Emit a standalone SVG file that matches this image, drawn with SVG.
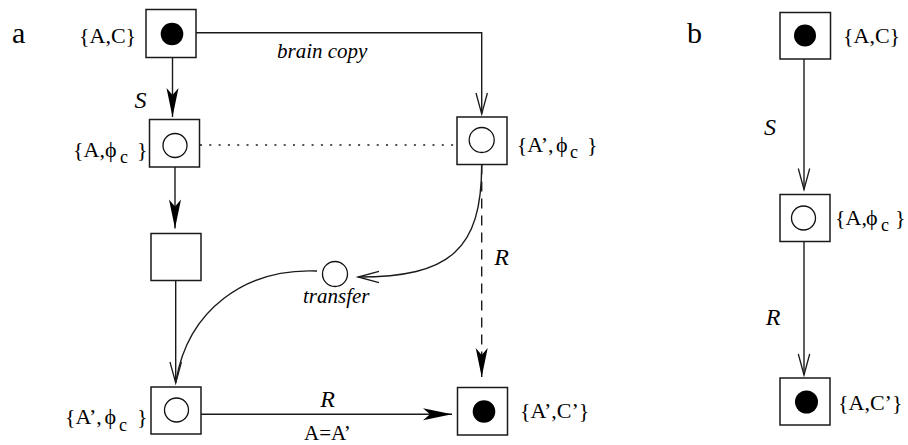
<svg xmlns="http://www.w3.org/2000/svg" width="908" height="445" viewBox="0 0 908 445" font-family="'Liberation Serif','Times New Roman','DejaVu Serif',serif">
<style>
.box{fill:#fff;stroke:#1a1a1a;stroke-width:1.5}
.fd{fill:#000}
.od{fill:none;stroke:#111;stroke-width:1.3}
.ln{fill:none;stroke:#1a1a1a;stroke-width:1.4}
text{font-family:'Liberation Serif','Times New Roman','DejaVu Serif',serif;font-size:22px;fill:#000}
.big{font-size:30px}
.it{font-style:italic}
.sm{font-size:21px}
.sub{font-size:18px}
</style>
<defs>
<marker id="fa" markerUnits="userSpaceOnUse" markerWidth="30" markerHeight="14" viewBox="0 0 30 14" refX="29" refY="7" orient="auto" overflow="visible">
<path d="M0,1 L29,7 L0,13 L7,7 Z" fill="#000"/>
</marker>
<marker id="oa" markerUnits="userSpaceOnUse" markerWidth="22" markerHeight="13" viewBox="0 0 22 13" refX="21" refY="6.5" orient="auto" overflow="visible">
<path d="M0,0.8 L21,6.5 L0,12.2" fill="none" stroke="#1a1a1a" stroke-width="1.3"/>
</marker>
</defs>

<g id="connectors">
<path class="ln" d="M172.5,57.5 V117" marker-end="url(#fa)"/>
<path class="ln" d="M175,167 V228.5" marker-end="url(#fa)"/>
<path class="ln" d="M175.7,280.5 V383" marker-end="url(#oa)"/>
<path class="ln" d="M317,271 C245,268 188,310 176,381"/>
<path class="ln" d="M481.7,164.5 C481.7,250 450,277 358,277" marker-end="url(#oa)"/>
<path class="ln" d="M481.7,164.5 V377" stroke-dasharray="10 7" marker-end="url(#fa)"/>
<path class="ln" d="M201,414.3 H452" marker-end="url(#fa)"/>
<path class="ln" d="M196,32.7 H481.7 V114" marker-end="url(#oa)"/>
<path class="ln" d="M200,145 H457" stroke-dasharray="2 7.3"/>
<path class="ln" d="M804,59 V189.5" marker-end="url(#oa)"/>
<path class="ln" d="M804,241.5 V375" marker-end="url(#oa)"/>
</g>

<g id="panel-labels">
<text class="big" x="12" y="43">a</text>
<text class="big" x="687" y="43">b</text>
</g>

<g id="a-AC">
<rect class="box" x="146" y="9.5" width="50" height="48"/>
<circle class="fd" cx="172" cy="34" r="11.3"/>
<text x="79" y="43">{A,C}</text>
</g>

<g id="a-Aphi">
<rect class="box" x="149.5" y="119.5" width="50" height="47.5"/>
<circle class="od" cx="175" cy="145.5" r="12"/>
<text x="73" y="157">{A,</text>
<text x="105" y="157">ϕ</text>
<text class="sub" x="120" y="162.5">c</text>
<text x="137" y="157">}</text>
</g>

<g id="a-empty">
<rect class="box" x="151" y="233.5" width="50" height="47"/>
</g>

<g id="a-A2phi-left">
<rect class="box" x="151" y="387" width="50" height="47"/>
<circle class="od" cx="176.5" cy="410" r="12"/>
<text x="65" y="424">{A’,</text>
<text x="104.5" y="424">ϕ</text>
<text class="sub" x="119" y="430.5">c</text>
<text x="137" y="424">}</text>
</g>

<g id="a-A2phi-right">
<rect class="box" x="457" y="117" width="50" height="47.5"/>
<circle class="od" cx="481.7" cy="140" r="12.5"/>
<text x="516.7" y="151.7">{A’,</text>
<text x="556" y="151.7">ϕ</text>
<text class="sub" x="570" y="158">c</text>
<text x="587" y="151.7">}</text>
</g>

<g id="a-A2C2">
<rect class="box" x="457.5" y="387.5" width="50" height="47.5"/>
<circle class="fd" cx="484" cy="411.5" r="11.3"/>
<text x="520" y="418.3">{A’,C’}</text>
</g>

<g id="a-transfer">
<circle class="od" cx="335" cy="274" r="12.5"/>
<text class="it sm" x="303" y="303">transfer</text>
</g>

<g id="a-edge-labels">
<text class="it" x="140.5" y="108" text-anchor="middle" style="font-size:24px">S</text>
<text class="it sm" x="277" y="57.5">brain copy</text>
<text class="it" x="501.5" y="265" text-anchor="middle" style="font-size:24px">R</text>
<text class="it" x="327.5" y="406.5" text-anchor="middle" style="font-size:24px">R</text>
<text class="sm" x="304" y="440">A=A’</text>
</g>

<g id="b-AC">
<rect class="box" x="780" y="12.5" width="50.5" height="46.5"/>
<circle class="fd" cx="805" cy="35.5" r="11"/>
<text x="843" y="43">{A,C}</text>
</g>

<g id="b-Aphi">
<rect class="box" x="780" y="194.5" width="50" height="47"/>
<circle class="od" cx="803.5" cy="218" r="12"/>
<text x="835" y="225">{A,</text>
<text x="866" y="225">ϕ</text>
<text class="sub" x="881" y="230.5">c</text>
<text x="895" y="225">}</text>
</g>

<g id="b-AC2">
<rect class="box" x="780" y="378" width="50" height="47"/>
<circle class="fd" cx="806.5" cy="402" r="11.5"/>
<text x="838" y="410">{A,C’}</text>
</g>

<g id="b-edge-labels">
<text class="it" x="770" y="135" text-anchor="middle" style="font-size:24px">S</text>
<text class="it" x="773" y="325" text-anchor="middle" style="font-size:24px">R</text>
</g>
</svg>
